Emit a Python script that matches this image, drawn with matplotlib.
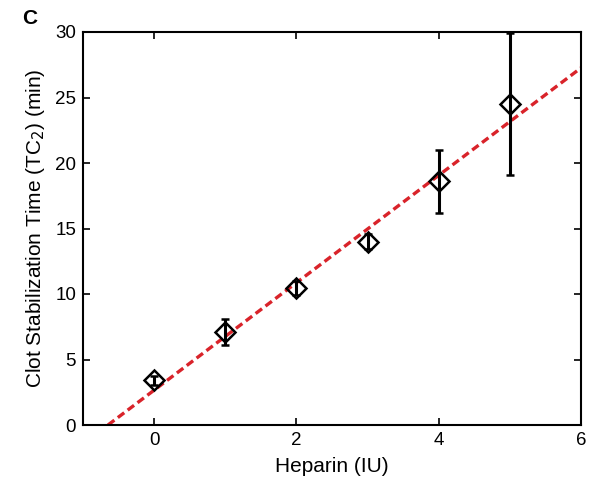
import numpy as np
import matplotlib.pyplot as plt

# heparin dose (IU) vs clot stabilization time (min)
heparin = [0, 1, 2, 3, 4, 5]
tc2_mean = [3.4, 7.1, 10.45, 14.0, 18.6, 24.5]
tc2_err = [0.35, 1.0, 0.55, 0.6, 2.4, 5.4]

# linear fit shown as dashed line
fit_slope = 4.1
fit_intercept = 2.66

xticks = [0, 2, 4, 6]
yticks = [0, 5, 10, 15, 20, 25, 30]

plt.rcParams['font.family'] = ['Liberation Sans', 'DejaVu Sans']

fig = plt.figure(figsize=(5.89, 4.83), dpi=100)
ax = fig.add_axes([83 / 589, 1 - 425 / 483, (581 - 83) / 589, (425 - 32) / 483])

x0 = -fit_intercept / fit_slope
fit_x = np.array([x0, 6])
ax.plot(fit_x, fit_slope * fit_x + fit_intercept, '--', color='#d9232a', lw=2.4,
        dashes=(2.4, 1.3), zorder=2)

ax.errorbar(heparin, tc2_mean, yerr=tc2_err, fmt='D', mfc='none', mec='black',
            mew=1.8, ms=10.5, ecolor='black', elinewidth=2.2, capsize=3, capthick=2.2,
            zorder=3)

ax.set_xlim(-1, 6)
ax.set_ylim(0, 30)
ax.set_xticks(xticks)
ax.set_yticks(yticks)
ax.tick_params(direction='in', top=True, right=True, length=5, width=1.2,
               labelsize=13.5, pad=5)
for s in ax.spines.values():
    s.set_linewidth(1.5)

ax.set_xlabel('Heparin (IU)', fontsize=15, labelpad=6)
ax.set_ylabel('Clot Stabilization Time (TC$_2$) (min)', fontsize=15, labelpad=6)
fig.text(22 / 589, 1 - 18 / 483, 'C', fontsize=15, fontweight='bold', va='center')

fig.savefig('out.png', dpi=100)
